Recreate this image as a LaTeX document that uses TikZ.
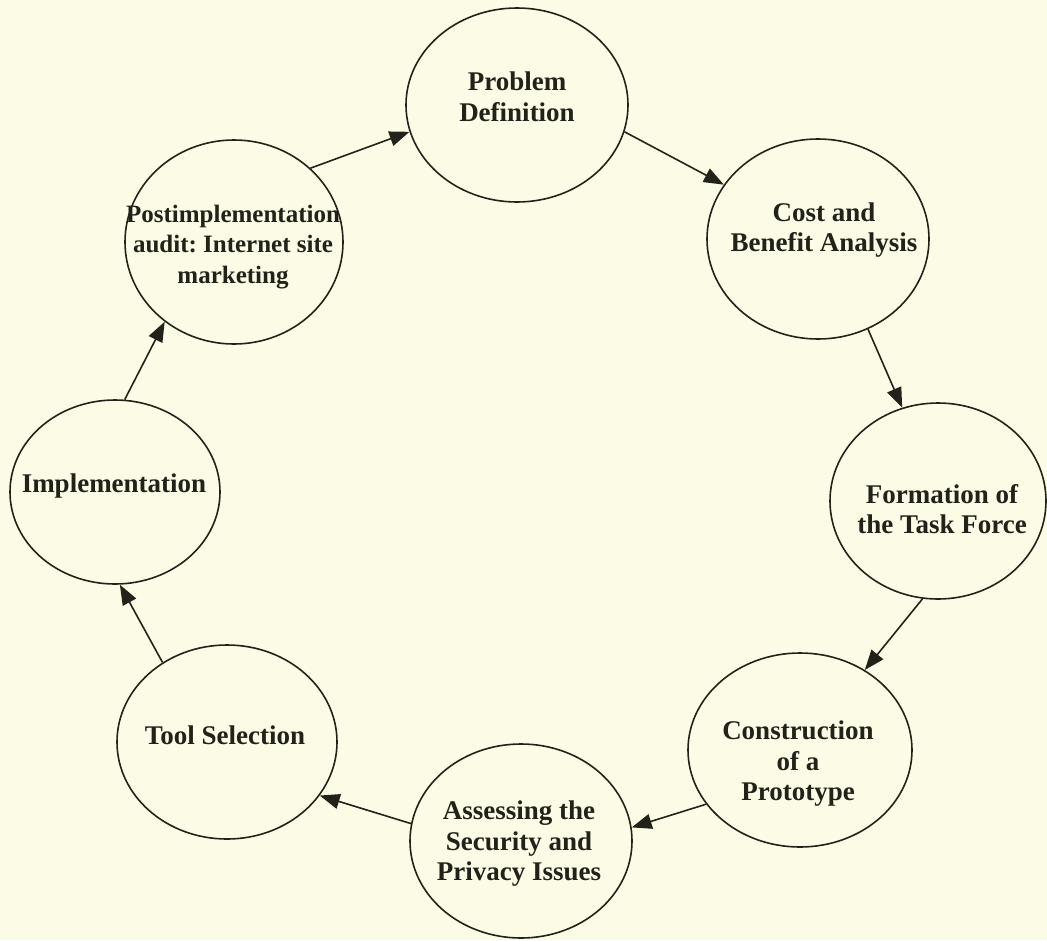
\documentclass[tikz,border=0pt]{standalone}
\usepackage{fontspec}
\setmainfont{Liberation Serif}
\frenchspacing
\usetikzlibrary{shapes.geometric,arrows.meta}
\definecolor{paper}{RGB}{252,252,230}
\definecolor{ink}{RGB}{34,34,26}
\begin{document}
\begin{tikzpicture}[x=1pt,y=-1pt,
  stage/.style={ellipse,draw=ink,line width=1.6pt,inner sep=0pt},
  caption/.style={align=center,inner sep=0pt,text=ink,
    font=\fontsize{27}{30.5}\selectfont\bfseries},
  flow/.style={draw=ink,line width=1.6pt,-{Triangle[length=20pt,width=15pt]}}]
% canvas
\fill[paper] (0,0) rectangle (1047,940);
\useasboundingbox (0,0) rectangle (1047,940);

% the eight stages of the cycle
\node[stage,minimum width=222pt,minimum height=194pt] (prob) at (517,105) {};
\node[stage,minimum width=222pt,minimum height=200pt] (cost) at (818,239) {};
\node[stage,minimum width=216pt,minimum height=196pt] (form) at (938,501) {};
\node[stage,minimum width=224pt,minimum height=194pt] (cons) at (800,750) {};
\node[stage,minimum width=222pt,minimum height=194pt] (asse) at (521,841) {};
\node[stage,minimum width=220pt,minimum height=194pt] (tool) at (227,742) {};
\node[stage,minimum width=210pt,minimum height=184pt] (impl) at (115,492) {};
\node[stage,minimum width=218pt,minimum height=204pt] (post) at (234,242) {};

% stage names
\node[caption] (prob-t) at (517,97)  {Problem\\Definition};
\node[caption] (cost-t) at (824,230) {Cost and\\Benefit Analysis};
\node[caption] (form-t) at (942,509) {Formation of\\the Task Force};
\node[caption] (cons-t) at (798,764) {Construction\\of a\\Prototype};
\node[caption] (asse-t) at (519,844) {Assessing the\\Security and\\Privacy Issues};
\node[caption] (tool-t) at (225,735) {Tool Selection};
\node[caption] (impl-t) at (114,486) {Implementation};
\node[caption,font=\fontsize{25}{30.5}\selectfont\bfseries] (post-t) at (233,247)
  {Postimplementation\\audit: Internet site\\marketing};

% connectors around the cycle
\draw[flow] (post.44)  -- (prob.194);
\draw[flow] (prob.346) -- (cost.150);
\draw[flow] (cost.299) -- (form.111);
\draw[flow] (form.261) -- (cons.51);
\draw[flow] (cons.210) -- (asse.7);
\draw[flow] (asse.171) -- (tool.330);
\draw[flow] (tool.129) -- (impl.273);
\draw[flow] (impl.84)  -- (post.229);
\end{tikzpicture}
\end{document}
